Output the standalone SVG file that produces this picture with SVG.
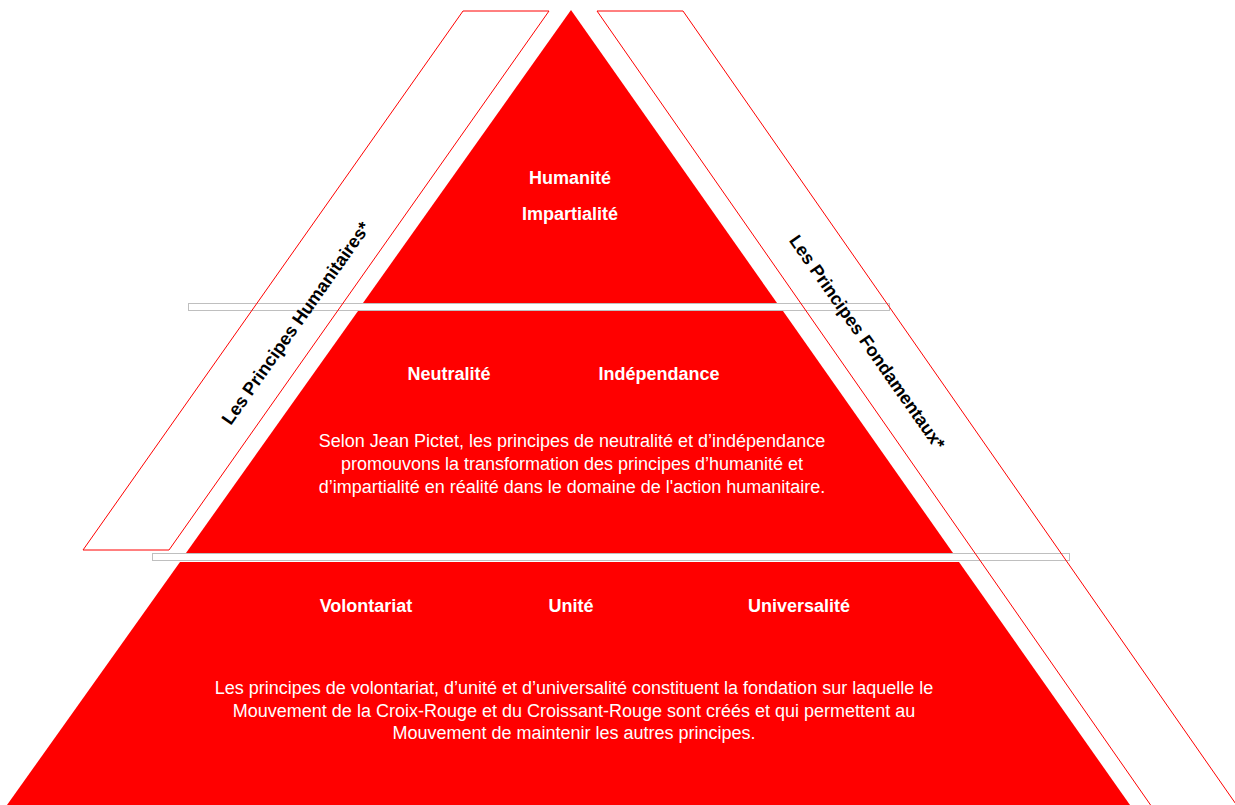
<svg xmlns="http://www.w3.org/2000/svg" width="1235" height="805" viewBox="0 0 1235 805">
<style>
.bar{fill:#fff;stroke:#bfbfbf;stroke-width:1}
.band{fill:none;stroke:#ff0000;stroke-width:1}
.lvl{fill:#ff0000}
.h{font-family:"Liberation Sans",Arial,sans-serif;font-weight:bold;font-size:18px;fill:#fff;text-anchor:middle}
.p{font-family:"Liberation Sans",Arial,sans-serif;font-size:18px;fill:#fff;text-anchor:middle}
.side{font-family:"Liberation Sans",Arial,sans-serif;font-weight:bold;font-size:18px;fill:#000;text-anchor:middle;dominant-baseline:middle}
</style>
<rect width="1235" height="805" fill="#fff"/>
<g id="separators">
<rect class="bar" x="188.5" y="303.5" width="701" height="7"/>
<rect class="bar" x="152.5" y="553.5" width="917" height="7"/>
</g>
<g id="band-humanitaires">
<polygon class="band" points="463,11 549,11 169,550 83,550"/>
<text class="side" transform="translate(297,324) rotate(-54.8)">Les Principes Humanitaires*</text>
</g>
<g id="band-fondamentaux">
<polygon class="band" points="597,11 683,11 1254,830 1168,830"/>
<text class="side" transform="translate(866,343) rotate(55)">Les Principes Fondamentaux*</text>
</g>
<g id="level-top">
<polygon class="lvl" points="571,10 777,303 363,303"/>
<text class="h" x="570" y="184">Humanité</text>
<text class="h" x="570" y="220">Impartialité</text>
</g>
<g id="level-middle">
<polygon class="lvl" points="358,311 783,311 953,553 186,553"/>
<text class="h" x="449" y="380">Neutralité</text>
<text class="h" x="659" y="380">Indépendance</text>
<text class="p" x="572" y="447">Selon Jean Pictet, les principes de neutralité et d’indépendance</text>
<text class="p" x="572" y="470">promouvons la transformation des principes d’humanité et</text>
<text class="p" x="572" y="493">d’impartialité en réalité dans le domaine de l'action humanitaire.</text>
</g>
<g id="level-bottom">
<polygon class="lvl" points="180,562 959,562 1130,805 7,805"/>
<text class="h" x="366" y="612">Volontariat</text>
<text class="h" x="571" y="612">Unité</text>
<text class="h" x="799" y="612">Universalité</text>
<text class="p" x="574" y="694">Les principes de volontariat,  d’unité et d’universalité constituent la fondation sur laquelle le</text>
<text class="p" x="574" y="717">Mouvement de la Croix-Rouge et du Croissant-Rouge sont créés et qui permettent au</text>
<text class="p" x="574" y="739">Mouvement de maintenir les autres principes.</text>
</g>
</svg>
